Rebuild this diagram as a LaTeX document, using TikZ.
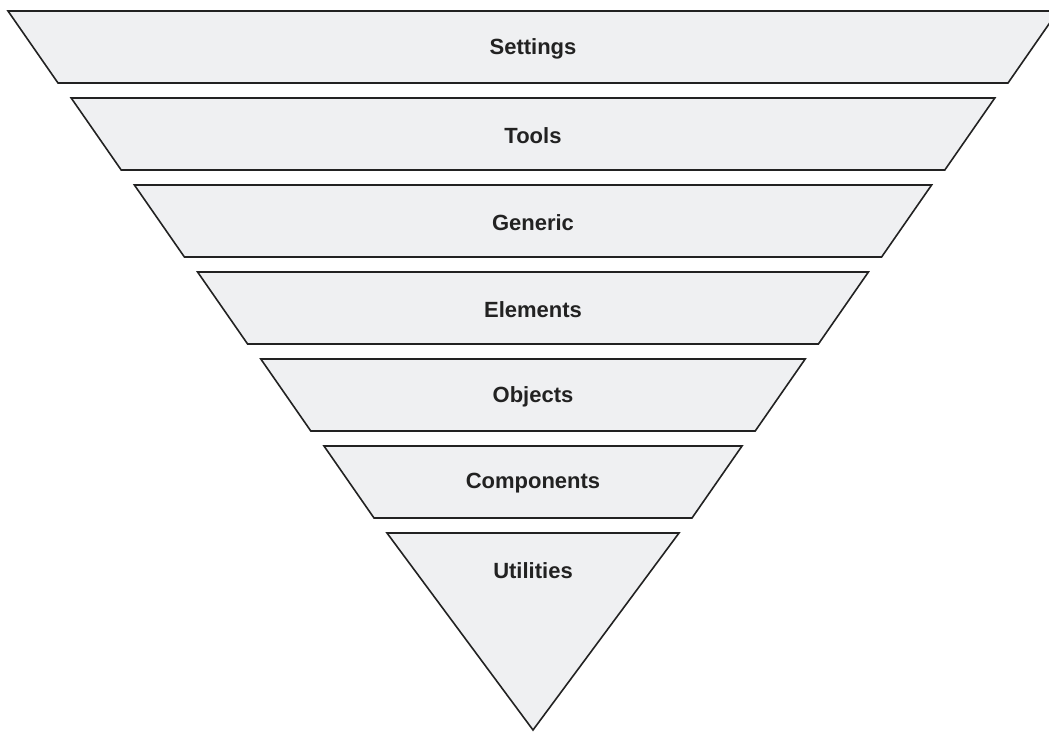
\documentclass[tikz,border=0pt]{standalone}
\usepackage{fontspec}
\setmainfont{Liberation Sans}
\definecolor{layerfill}{HTML}{EFF0F2}
\definecolor{layerline}{HTML}{222222}
\begin{document}
\begin{tikzpicture}[x=1pt, y=-1pt,
  layer/.style={fill=layerfill, draw=layerline, line width=1.6pt, line join=miter},
  layerlabel/.style={font=\fontsize{22}{26}\selectfont\bfseries, text=layerline}]
  \useasboundingbox (0,0) rectangle (1049,731);
  \clip (0,0) rectangle (1049,731);

  % Stacked layers, widest on top
  \foreach \i/\name in {0/Settings, 1/Tools, 2/Generic, 3/Elements, 4/Objects, 5/Components} {
    \pgfmathsetmacro{\ytop}{11+87*\i}
    \pgfmathsetmacro{\wtop}{525-63.2*\i}
    \draw[layer] (533-\wtop, \ytop) -- (533+\wtop, \ytop)
      -- (533+\wtop-50, \ytop+72) -- (533-\wtop+50, \ytop+72) -- cycle;
    \node[layerlabel] (lbl\i) at (533, \ytop+37.5) {\name};
  }

  % Bottom layer as a triangle
  \draw[layer] (387,533) -- (679,533) -- (533,730) -- cycle;
  \node[layerlabel] (lbl6) at (533, 570.5) {Utilities};
\end{tikzpicture}
\end{document}
